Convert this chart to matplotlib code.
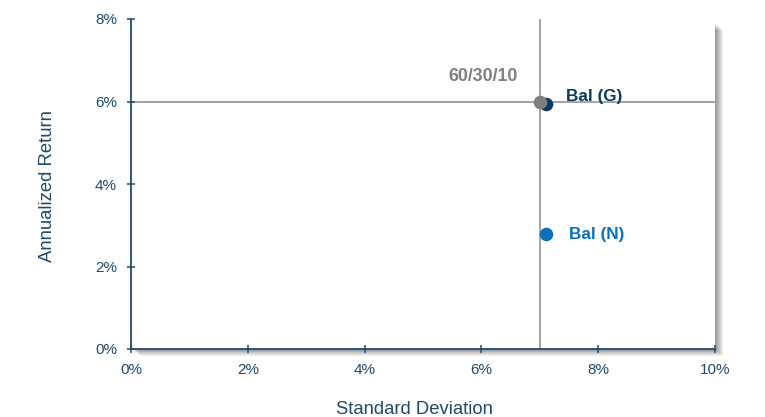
import matplotlib; matplotlib.use('Agg')
import matplotlib.pyplot as plt
from matplotlib.patches import Rectangle
from matplotlib.ticker import FuncFormatter

plt.rcParams['font.family'] = ['Liberation Sans', 'DejaVu Sans']

# portfolios: standard deviation (%), annualized return (%)
names = ['60/30/10', 'Bal (G)', 'Bal (N)']
std_dev = [7.0, 7.1, 7.1]
ann_ret = [6.0, 5.95, 2.8]
colors = ['#7f7f7f', '#0b3b5e', '#0a72ba']
ref_x, ref_y = 7.0, 6.0

AXC = '#1f4a6e'
W, H = 765, 417
L, B, AW, AH = 131 / W, 68 / H, 584 / W, 330 / H

fig = plt.figure(figsize=(7.65, 4.17), dpi=100)
ax = fig.add_axes([L, B, AW, AH])

# soft drop shadow on the right and bottom of the plot box
for i in range(8):
    dx, dy = (i + 1) / W, (i + 1) * 0.85 / H
    fig.patches.append(Rectangle((L + dx, B - dy), AW, AH - 4 / H,
                                 transform=fig.transFigure, facecolor='black',
                                 alpha=0.06, edgecolor='none', zorder=0))
ax.set_zorder(1)
ax.set_facecolor('white')

ax.axvline(ref_x, color='#8c8c8c', lw=1.1, zorder=1)
ax.axhline(ref_y, color='#8c8c8c', lw=1.1, zorder=1)

# draw in order: Bal (N), Bal (G), then 60/30/10 on top
for i in [2, 1, 0]:
    ax.scatter(std_dev[i], ann_ret[i], s=95, color=colors[i], zorder=3, linewidths=0)

ax.annotate(names[0], (std_dev[0], ann_ret[0]), xytext=(-16, 18), textcoords='offset points',
            ha='right', va='center', fontsize=12.8, fontweight='bold', color=colors[0])
ax.annotate(names[1], (std_dev[1], ann_ret[1]), xytext=(15, 5), textcoords='offset points',
            ha='left', va='center', fontsize=12.3, fontweight='bold', color=colors[1])
ax.annotate(names[2], (std_dev[2], ann_ret[2]), xytext=(16.5, -1), textcoords='offset points',
            ha='left', va='center', fontsize=12.3, fontweight='bold', color=colors[2])

ax.set_xlim(0, 10)
ax.set_ylim(0, 8)
ax.set_xticks(range(0, 11, 2))
ax.set_yticks(range(0, 9, 2))
pct = FuncFormatter(lambda v, _: f'{v:.0f}%')
ax.xaxis.set_major_formatter(pct)
ax.yaxis.set_major_formatter(pct)

for s in ['top', 'right']:
    ax.spines[s].set_visible(False)
for s in ['left', 'bottom']:
    ax.spines[s].set_color(AXC)
    ax.spines[s].set_linewidth(1.3)
ax.tick_params(direction='inout', length=6, width=1.1, color=AXC, labelcolor=AXC,
               labelsize=11, pad=7)

fig.text(414 / W, 1 - 409 / H, 'Standard Deviation', ha='center', va='center',
         fontsize=13.3, color=AXC)
fig.text(48 / W, 1 - 186 / H, 'Annualized Return', ha='center', va='center', rotation=90,
         fontsize=13.3, color=AXC)

fig.savefig('out.png', dpi=100)
